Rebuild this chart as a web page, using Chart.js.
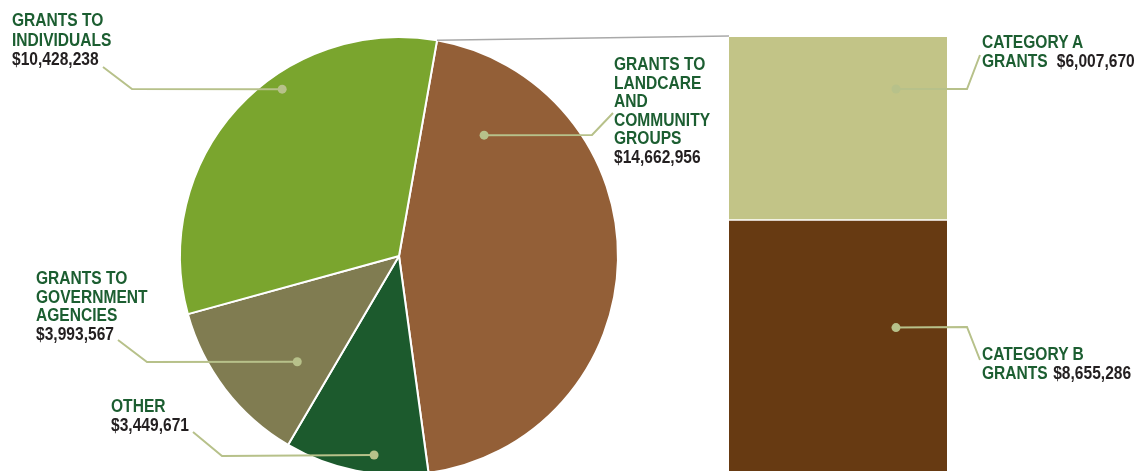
<!DOCTYPE html>
<html>
<head>
<meta charset="utf-8">
<script src="https://cdn.jsdelivr.net/npm/chart.js@4.4.1/dist/chart.umd.min.js"></script>
<style>
  html, body { margin: 0; padding: 0; overflow: hidden; background: #fff; width: 1136px; height: 471px; }
  #wrap { position: relative; width: 1136px; height: 471px; overflow: hidden; }
  canvas { position: absolute; left: 0; top: 0; }
  .lbl {
    position: absolute;
    font-family: "Liberation Sans", Arial, sans-serif;
    font-weight: bold;
    font-size: 17.5px;
    line-height: 18.6px;
    color: #1c5e31;
    white-space: nowrap;
    transform: scaleX(0.89);
    transform-origin: 0 0;
  }
  .lbl .v { color: #231f20; }
</style>
</head>
<body>
<div id="wrap">
  <canvas id="pie" width="1136" height="480"></canvas>
  <canvas id="bar" width="1136" height="471"></canvas>
  <div class="lbl" style="left:12px;top:11px;line-height:19.5px">GRANTS TO<br>INDIVIDUALS<br><span class="v">$10,428,238</span></div>
  <div class="lbl" style="left:614px;top:55px">GRANTS TO<br>LANDCARE<br>AND<br>COMMUNITY<br>GROUPS<br><span class="v">$14,662,956</span></div>
  <div class="lbl" style="left:36px;top:269px">GRANTS TO<br>GOVERNMENT<br>AGENCIES<br><span class="v">$3,993,567</span></div>
  <div class="lbl" style="left:111px;top:397px">OTHER<br><span class="v">$3,449,671</span></div>
  <div class="lbl" style="left:982px;top:33px">CATEGORY A<br>GRANTS<span class="v" style="position:absolute;left:84px">$6,007,670</span></div>
  <div class="lbl" style="left:982px;top:345px">CATEGORY B<br>GRANTS<span class="v" style="position:absolute;left:80px">$8,655,286</span></div>
</div>
<script>
// pie: order clockwise from just right of 12 o'clock
const pieLabels = ['Grants to Landcare and Community Groups', 'Other', 'Grants to Government Agencies', 'Grants to Individuals'];
const pieValues = [14662956, 3449671, 3993567, 10428238];
const pieColors = ['#935f37', '#1c5a2d', '#807c51', '#7aa52e'];

// breakdown of the landcare grants
const barLabels = ['Category A Grants', 'Category B Grants'];
const barValues = [6007670, 8655286];
const barColors = ['#c2c487', '#673a12'];

const leaderColor = '#b7c18a';

// leader lines: dot placed inside slice (t = share of its angle, r = share of radius), then elbow, then end
const pieLeaders = [
  { t: 0.155, r: 0.675, elbow: [592, 135], end: [613, 113] },
  { t: 0.39, r: 0.916, elbow: [222, 456], end: [193, 432] },
  { t: 0.305, r: 0.67, elbow: [147, 362], end: [118, 340] },
  { t: 0.61, r: 0.93, elbow: [132, 89], end: [103, 67] },
];
const barLeaders = [
  { fx: 0.766, fy: 0.284, elbow: [967, 89], end: [980, 55] },
  { fx: 0.766, fy: 0.408, elbow: [967, 327], end: [980, 360] },
];

function drawLeader(ctx, x, y, elbow, end) {
  ctx.save();
  ctx.strokeStyle = leaderColor;
  ctx.fillStyle = leaderColor;
  ctx.lineWidth = 2;
  ctx.beginPath();
  ctx.moveTo(x, y);
  ctx.lineTo(elbow[0], elbow[1]);
  ctx.lineTo(end[0], end[1]);
  ctx.stroke();
  ctx.beginPath();
  ctx.arc(x, y, 4.5, 0, Math.PI * 2);
  ctx.fill();
  ctx.restore();
}

const pieLeaderPlugin = {
  id: 'pieLeaders',
  afterDatasetsDraw(chart) {
    const arcs = chart.getDatasetMeta(0).data;
    arcs.forEach((arc, i) => {
      const l = pieLeaders[i];
      const a = arc.startAngle + (arc.endAngle - arc.startAngle) * l.t;
      const x = arc.x + Math.cos(a) * arc.outerRadius * l.r;
      const y = arc.y + Math.sin(a) * arc.outerRadius * l.r;
      drawLeader(chart.ctx, x, y, l.elbow, l.end);
    });
  },
};

const pieChart = new Chart(document.getElementById('pie'), {
  type: 'pie',
  data: {
    labels: pieLabels,
    datasets: [{
      data: pieValues,
      backgroundColor: pieColors,
      borderColor: '#ffffff',
      borderWidth: 2,
    }],
  },
  options: {
    responsive: false,
    animation: false,
    rotation: 10,
    layout: { padding: { left: 179, right: 517, top: 36, bottom: 4 } },
    plugins: { legend: { display: false }, tooltip: { enabled: false } },
  },
  plugins: [pieLeaderPlugin],
});

const barLeaderPlugin = {
  id: 'barLeaders',
  afterDatasetsDraw(chart) {
    const ctx = chart.ctx;
    // connector from the top edge of the landcare slice to the top of the bar
    const first = pieChart.getDatasetMeta(0).data[0];
    const topA = chart.getDatasetMeta(1).data[0];
    const left = topA.x - topA.width / 2;
    ctx.save();
    ctx.strokeStyle = '#a9a9a9';
    ctx.lineWidth = 1.5;
    ctx.beginPath();
    ctx.moveTo(first.x + Math.cos(first.startAngle) * first.outerRadius, first.y + Math.sin(first.startAngle) * first.outerRadius);
    ctx.lineTo(left, topA.y - 1);
    ctx.stroke();
    ctx.restore();

    // dataset 1 = A (top), dataset 0 = B (bottom)
    [1, 0].forEach((ds, i) => {
      const el = chart.getDatasetMeta(ds).data[0];
      const l = barLeaders[i];
      const top = Math.min(el.y, el.base);
      const h = Math.abs(el.base - el.y);
      const x = el.x - el.width / 2 + el.width * l.fx;
      const y = top + h * l.fy;
      drawLeader(ctx, x, y, l.elbow, l.end);
    });
  },
};

const barTotal = barValues[0] + barValues[1];

new Chart(document.getElementById('bar'), {
  type: 'bar',
  data: {
    labels: ['Landcare'],
    datasets: [
      {
        label: barLabels[1],
        data: [barValues[1]],
        backgroundColor: barColors[1],
        borderColor: '#ffffff',
        borderWidth: { top: 1, left: 0, right: 0, bottom: 0 },
        borderSkipped: false,
      },
      {
        label: barLabels[0],
        data: [barValues[0]],
        backgroundColor: barColors[0],
        borderColor: '#ffffff',
        borderWidth: { top: 0, left: 0, right: 0, bottom: 1 },
        borderSkipped: false,
      },
    ],
  },
  options: {
    responsive: false,
    animation: false,
    layout: { padding: { left: 729, right: 189, top: 37, bottom: 0 } },
    scales: {
      x: { display: false, stacked: true },
      y: { display: false, stacked: true, min: 415000, max: barTotal },
    },
    datasets: { bar: { barPercentage: 1, categoryPercentage: 1 } },
    plugins: { legend: { display: false }, tooltip: { enabled: false } },
  },
  plugins: [barLeaderPlugin],
});
</script>
</body>
</html>
